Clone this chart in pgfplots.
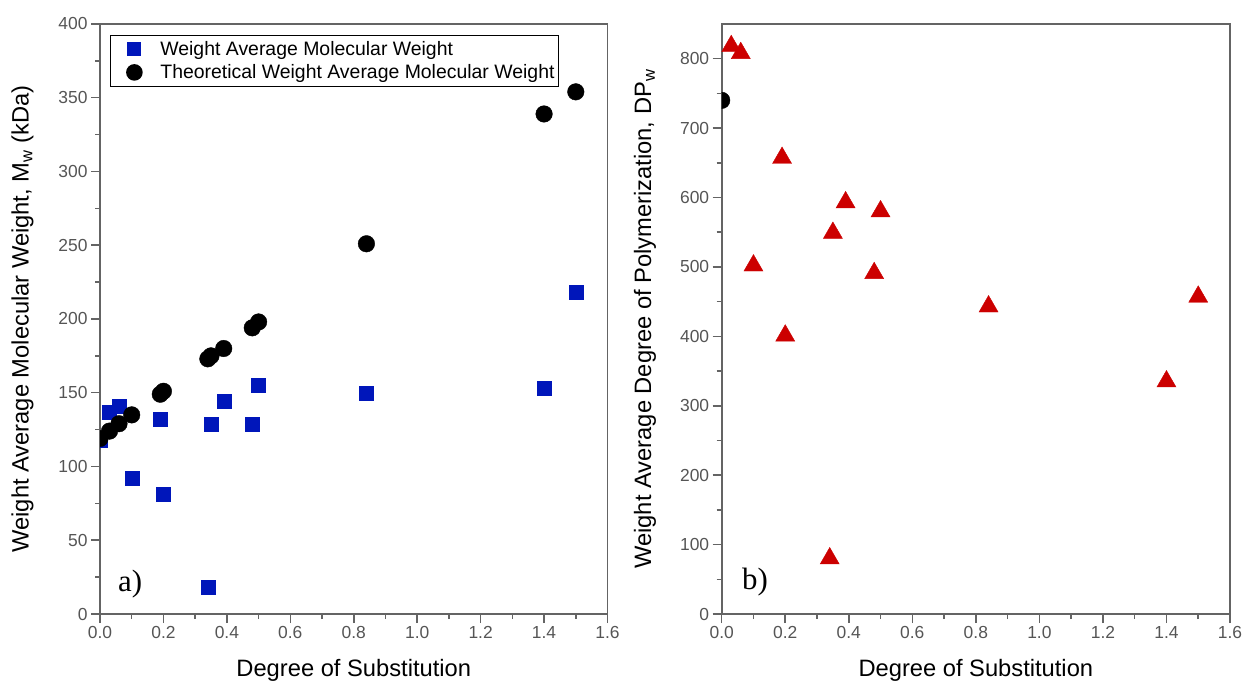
\documentclass[border=0pt]{standalone}
\usepackage{fontspec}
\setmainfont{Liberation Sans}
\newfontfamily\seriffont{Liberation Serif}
\usepackage{pgfplots}
\pgfplotsset{compat=1.18}
\definecolor{axgray}{RGB}{100,100,100}
\definecolor{tickgray}{RGB}{85,85,85}
\definecolor{ptblue}{RGB}{0,22,186}
\definecolor{ptred}{RGB}{204,0,0}
\pgfplotsset{
  myaxis/.style={
    scale only axis,
    anchor=south west,
    axis line style={axgray, line width=1.8bp},
    every tick/.style={axgray, line width=1.5bp},
    tick align=outside,
    xtick pos=left, ytick pos=left,
    major tick length=9bp,
    minor tick length=5bp,
    minor x tick num=1,
    minor y tick num=1,
    tick label style={font=\fontsize{17.5}{21}\selectfont, text=tickgray},
    /pgf/number format/assume math mode=true,
    label style={font=\fontsize{23.8}{28}\selectfont},
    xmin=0, xmax=1.6,
    xtick={0,0.2,...,1.6},
    xticklabel style={/pgf/number format/.cd, fixed, fixed zerofill, precision=1},
    xlabel={Degree of Substitution},
    xlabel style={at={(axis description cs:0.5,-0.106)}, anchor=base},
    clip marker paths=true,
  },
  legmark/.style={legend image code/.code={\path[draw=none,fill=none] (0bp,0bp) -- (46bp,0bp); \draw[draw opacity=0] plot coordinates {(22bp,0bp)};}},
}
\begin{document}
\begin{tikzpicture}
\useasboundingbox (0,0) rectangle (1245bp,683bp);
\begin{axis}[myaxis,
  at={(100bp,69bp)}, width=507.5bp, height=590bp,
  ymin=0, ymax=400, ytick={0,50,...,400},
  ylabel={Weight Average Molecular Weight, M\textsubscript{w} (kDa)},
  ylabel style={at={(axis description cs:-0.1527,0.5)}, anchor=center},
  legend style={at={(axis description cs:0.0197,0.9814)}, anchor=north west,
    draw=black, line width=0.8bp, font=\fontsize{19.5}{22.4}\selectfont,
    inner xsep=2bp, inner ysep=4.3bp, row sep=3.4bp, cells={anchor=west}},
]
\addplot[only marks, mark=square*, mark size=7bp, draw=ptblue, fill=ptblue, legmark] coordinates {
(0,118) (0.03,137) (0.06,141) (0.1,92) (0.19,132) (0.2,81) (0.34,18)
(0.35,129) (0.39,144) (0.48,129) (0.5,155) (0.84,150) (1.4,153) (1.5,218)};
\addlegendentry{Weight Average Molecular Weight}
\addplot[only marks, mark=*, mark size=8.3bp, draw=black, fill=black, legmark] coordinates {
(0,119) (0.03,124) (0.06,129) (0.1,135) (0.19,149) (0.2,151) (0.34,173)
(0.35,175) (0.39,180) (0.48,194) (0.5,198) (0.84,251) (1.4,339) (1.5,354)};
\addlegendentry{Theoretical Weight Average Molecular Weight}
\node[anchor=base west, inner sep=0pt, font=\seriffont\fontsize{31}{36}\selectfont] at (axis description cs:0.0355,0.0373) {a)};
\end{axis}
\begin{axis}[myaxis,
  at={(721.7bp,69bp)}, width=508.3bp, height=590bp,
  ymin=0, ymax=850, ytick={0,100,...,800},
  ylabel={Weight Average Degree of Polymerization, DP\textsubscript{w}},
  ylabel style={at={(axis description cs:-0.151,0.5)}, anchor=center},
]
\addplot[only marks, mark=*, mark size=8.3bp, draw=black, fill=black] coordinates {(0,740)};
\addplot[only marks, mark=triangle*, mark size=11bp, draw=ptred, fill=ptred] coordinates {
(0.03,818) (0.06,808) (0.1,502) (0.19,657) (0.2,401) (0.34,80)
(0.35,549) (0.39,593) (0.48,491) (0.5,580) (0.84,443) (1.4,335) (1.5,457)};
\node[anchor=base west, inner sep=0pt, font=\seriffont\fontsize{31}{36}\selectfont] at (axis description cs:0.04,0.0407) {b)};
\end{axis}
\end{tikzpicture}
\end{document}
